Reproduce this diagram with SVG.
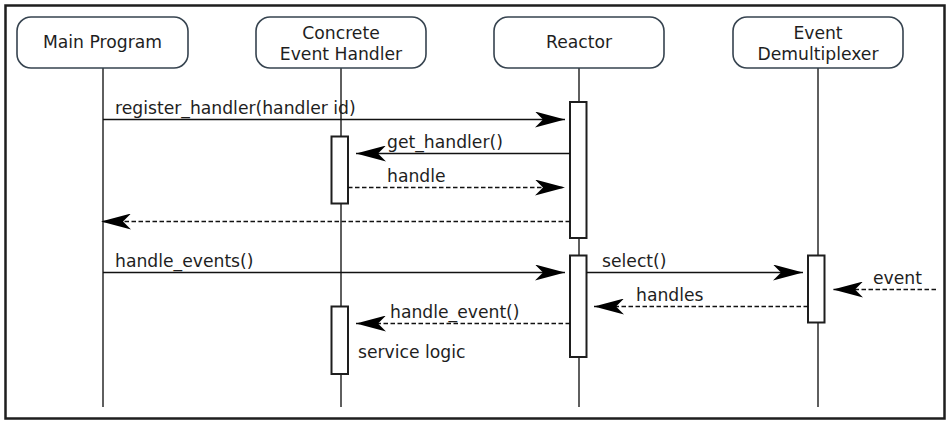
<svg xmlns="http://www.w3.org/2000/svg" width="951" height="424" viewBox="0 0 951 424">
<style>
  .frame { fill: #ffffff; stroke: #1e1e1e; stroke-width: 2.5; }
  .node rect { fill: #ffffff; stroke: #36434f; stroke-width: 1.6; }
  text { font-family: "DejaVu Sans", Verdana, sans-serif; font-size: 17.2px; fill: #1e1e1e; }
  .c { text-anchor: middle; }
  .life { stroke: #2a2a2a; stroke-width: 1.5; fill: none; }
  .act { fill: #ffffff; stroke: #1e1e1e; stroke-width: 2; }
  .msg { stroke: #111111; stroke-width: 1.7; fill: none; marker-end: url(#arrow); }
  .dash { stroke-dasharray: 4.5 2.5; }
</style>
<defs>
  <marker id="arrow" markerUnits="userSpaceOnUse" viewBox="0 0 30 16" refX="30" refY="8" markerWidth="30" markerHeight="16" orient="auto">
    <path d="M0,0 L30,8 L0,16 L8,8 Z" fill="#000000"/>
  </marker>
</defs>
<rect class="frame" x="5.5" y="5.5" width="939" height="413"/>

<g id="lifelines">
  <line class="life" x1="103" y1="68" x2="103" y2="407"/>
  <line class="life" x1="341" y1="68" x2="341" y2="407"/>
  <line class="life" x1="579" y1="68" x2="579" y2="407"/>
  <line class="life" x1="818" y1="68" x2="818" y2="407"/>
</g>

<g id="main-program" class="node">
  <rect x="17" y="17" width="171" height="51" rx="14" ry="14"/>
  <text class="c" x="102.5" y="48">Main Program</text>
</g>
<g id="concrete-event-handler" class="node">
  <rect x="256" y="17" width="170" height="51" rx="14" ry="14"/>
  <text class="c" x="341" y="38.5">Concrete</text>
  <text class="c" x="341" y="59.5">Event Handler</text>
</g>
<g id="reactor" class="node">
  <rect x="494" y="17" width="170" height="51" rx="14" ry="14"/>
  <text class="c" x="579" y="48">Reactor</text>
</g>
<g id="event-demultiplexer" class="node">
  <rect x="733" y="17" width="170" height="51" rx="14" ry="14"/>
  <text class="c" x="818" y="38.5">Event</text>
  <text class="c" x="818" y="59.5">Demultiplexer</text>
</g>

<g id="activations">
  <rect class="act" x="570" y="102" width="16.5" height="136"/>
  <rect class="act" x="331.5" y="136.5" width="16.5" height="67"/>
  <rect class="act" x="570" y="255.5" width="16.5" height="101.5"/>
  <rect class="act" x="808" y="255.5" width="16.5" height="67"/>
  <rect class="act" x="331.5" y="306.5" width="16.5" height="67.5"/>
</g>

<g id="connectors">
  <line class="msg" x1="103" y1="119.5" x2="565" y2="119.5"/>
  <line class="msg" x1="570" y1="153.5" x2="356" y2="153.5"/>
  <line class="msg dash" x1="348" y1="187.5" x2="565" y2="187.5"/>
  <line class="msg dash" x1="570" y1="221.5" x2="101" y2="221.5"/>
  <line class="msg" x1="103" y1="272.5" x2="565" y2="272.5"/>
  <line class="msg" x1="586.5" y1="272.5" x2="803" y2="272.5"/>
  <line class="msg dash" x1="936" y1="289.5" x2="833" y2="289.5"/>
  <line class="msg dash" x1="808" y1="306.5" x2="594" y2="306.5"/>
  <line class="msg dash" x1="570" y1="323.5" x2="356" y2="323.5"/>
</g>

<g id="labels">
  <text x="115" y="113.5">register_handler(handler id)</text>
  <text x="387" y="148">get_handler()</text>
  <text x="387" y="182">handle</text>
  <text x="115" y="267">handle_events()</text>
  <text x="602" y="267">select()</text>
  <text x="873" y="284">event</text>
  <text x="636" y="301">handles</text>
  <text x="390" y="318">handle_event()</text>
  <text x="358" y="358">service logic</text>
</g>
</svg>
